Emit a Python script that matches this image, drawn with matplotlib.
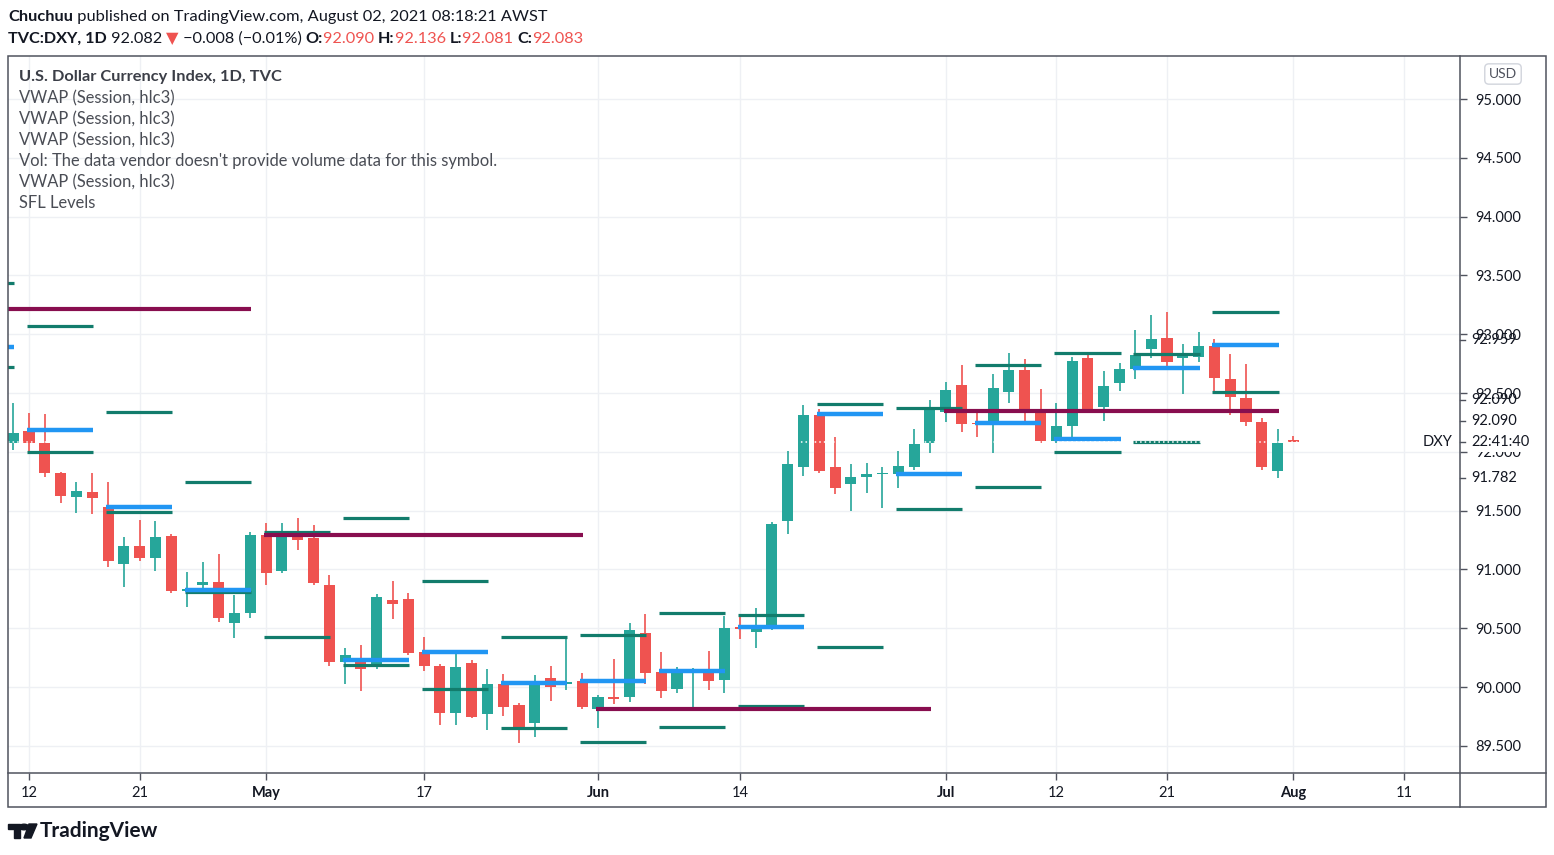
import numpy as np
import pandas as pd
import matplotlib
matplotlib.use("Agg")
import matplotlib.pyplot as plt
from matplotlib.lines import Line2D
from matplotlib.patches import Rectangle, Polygon, Circle

plt.rcParams['font.family'] = ['Lato', 'DejaVu Sans']

W, H = 1554, 855

# daily candles, Apr 9 .. Aug 2 2021 (weekdays)
dates = pd.bdate_range('2021-04-09', '2021-08-02')
opens = [92.075, 92.180, 92.072, 91.823, 91.618, 91.658, 91.534, 91.044, 91.199, 91.100,
         91.284, 90.820, 90.870, 90.896, 90.542, 90.627, 91.293, 90.986, 91.287, 91.270,
         90.867, 90.213, 90.230, 90.181, 90.740, 90.748, 90.298, 90.179, 89.776, 90.201,
         89.767, 90.026, 89.847, 89.691, 90.075, 90.030, 90.051, 89.810, 89.912, 89.918,
         90.457, 90.131, 89.981, 90.120, 90.131, 90.060, 90.508, 90.470, 90.527, 91.414,
         91.874, 92.313, 91.869, 91.724, 91.790, 91.810, 91.809, 91.869, 92.072, 92.342,
         92.568, 92.245, 92.243, 92.512, 92.696, 92.355, 92.092, 92.222, 92.795, 92.384,
         92.582, 92.701, 92.872, 92.965, 92.795, 92.804, 92.900, 92.619, 92.455, 92.256,
         91.840, 92.090]
highs = [92.415, 92.333, 92.321, 91.830, 91.746, 91.817, 91.746, 91.278, 91.420, 91.412,
         91.298, 90.980, 91.066, 91.129, 90.782, 91.321, 91.392, 91.398, 91.435, 91.378,
         90.952, 90.334, 90.357, 90.791, 90.904, 90.797, 90.428, 90.196, 90.278, 90.230,
         90.150, 90.110, 89.867, 90.102, 90.182, 90.430, 90.116, 89.932, 90.235, 90.547,
         90.621, 90.301, 90.173, 90.159, 90.309, 90.604, 90.593, 90.669, 91.400, 92.007,
         92.398, 92.361, 92.129, 91.894, 91.908, 91.869, 92.007, 92.191, 92.440, 92.596,
         92.738, 92.355, 92.662, 92.843, 92.787, 92.531, 92.418, 92.810, 92.823, 92.687,
         92.752, 93.036, 93.163, 93.192, 92.917, 93.016, 92.957, 92.832, 92.747, 92.285,
         92.191, 92.136]
lows = [92.015, 92.001, 91.783, 91.567, 91.477, 91.471, 91.024, 90.848, 91.075, 90.990,
        90.803, 90.677, 90.825, 90.550, 90.414, 90.584, 90.867, 90.973, 91.165, 90.867,
        90.181, 90.026, 89.969, 90.153, 90.578, 90.272, 90.139, 89.677, 89.677, 89.734,
        89.634, 89.753, 89.527, 89.578, 89.881, 89.975, 89.810, 89.654, 89.855, 89.876,
        90.026, 89.904, 89.946, 89.820, 89.975, 89.946, 90.406, 90.335, 90.485, 91.298,
        91.798, 91.817, 91.639, 91.500, 91.653, 91.520, 91.690, 91.845, 91.992, 92.256,
        92.172, 92.129, 91.993, 92.418, 92.243, 92.078, 92.078, 92.129, 92.342, 92.265,
        92.520, 92.619, 92.795, 92.724, 92.491, 92.767, 92.520, 92.313, 92.219, 91.845,
        91.775, 92.081]
closes = [92.160, 92.078, 91.817, 91.627, 91.667, 91.610, 91.075, 91.199, 91.100, 91.279,
          90.820, 90.835, 90.890, 90.590, 90.632, 91.293, 90.967, 91.287, 91.250, 90.887,
          90.215, 90.272, 90.153, 90.768, 90.709, 90.286, 90.181, 89.776, 90.167, 89.743,
          90.026, 89.833, 89.657, 90.031, 89.998, 90.045, 89.827, 89.912, 89.895, 90.485,
          90.122, 89.969, 90.131, 90.135, 90.054, 90.499, 90.491, 90.508, 91.386, 91.896,
          92.313, 91.840, 91.696, 91.783, 91.810, 91.820, 91.879, 92.066, 92.361, 92.526,
          92.234, 92.235, 92.540, 92.696, 92.342, 92.095, 92.219, 92.772, 92.361, 92.560,
          92.704, 92.823, 92.957, 92.766, 92.829, 92.900, 92.625, 92.463, 92.256, 91.869,
          92.078, 92.083]

# weekly levels (week starting Monday)
week_starts = ['2021-04-05', '2021-04-12', '2021-04-19', '2021-04-26', '2021-05-03',
               '2021-05-10', '2021-05-17', '2021-05-24', '2021-05-31', '2021-06-07',
               '2021-06-14', '2021-06-21', '2021-06-28', '2021-07-05', '2021-07-12',
               '2021-07-19', '2021-07-26']
week_high = [93.435, 93.070, 92.338, 91.743, 91.318, 91.437, 90.904, 90.428, 90.442,
             90.627, 90.612, 92.406, 92.370, 92.738, 92.843, 92.829, 93.191]
week_vwap = [92.891, 92.185, 91.531, 90.825, np.nan, 90.230, 90.300, 90.031, 90.054,
             90.139, 90.508, 92.321, 91.809, 92.242, 92.106, 92.710, 92.908]
week_low = [92.721, 91.998, 91.488, 90.808, 90.425, 90.191, 89.980, 89.649, 89.535,
            89.663, 89.838, 90.343, 91.511, 91.701, 92.001, 92.081, 92.506]

# monthly levels
month_starts = ['2021-04-01', '2021-05-03', '2021-06-01', '2021-07-01']
month_ends = ['2021-04-30', '2021-05-31', '2021-06-30', '2021-07-30']
month_level = [93.214, 91.293, 89.811, 92.347]

price_ticks = np.arange(89.5, 95.01, 0.5)
x_tick_dates = ['2021-04-12', '2021-04-21', '2021-05-03', '2021-05-17', '2021-06-01',
                '2021-06-14', '2021-07-01', '2021-07-12', '2021-07-21', '2021-08-02',
                '2021-08-11']
x_tick_labels = ['12', '21', 'May', '17', 'Jun', '14', 'Jul', '12', '21', 'Aug', '11']
month_labels = {'May', 'Jun', 'Jul', 'Aug'}

# extra labels on the price scale
side_labels = ['92.959', '92.090', '92.090', '91.782']
side_prices = [92.951, 92.440, 92.262, 91.777]

UP, DOWN = '#26a69a', '#ef5350'
LEVEL, VWAP, MONTH = '#127c6c', '#2196f3', '#880e4f'
TXT = '#131722'

cal = pd.bdate_range('2021-04-01', '2021-08-13')
pos = {d: i for i, d in enumerate(cal)}
def px(d):
    return pos[pd.Timestamp(d)]

fig = plt.figure(figsize=(W / 100, H / 100), dpi=100)
ax = fig.add_axes([8 / W, 1 - 773 / H, 1452 / W, 717 / H])
for s in ax.spines.values():
    s.set_visible(False)

x0 = px('2021-04-12')
ax.set_xlim(x0 - 1.33, x0 + 90.54)
ax.set_ylim(89.269, 95.366)

# grid
for p in price_ticks:
    ax.axhline(p, color='#eef0f4', lw=1, zorder=0)
for d in x_tick_dates:
    ax.axvline(px(d), color='#eef0f4', lw=1, zorder=0)

# candles
xs = np.array([px(d) for d in dates])
o, h, l, c = map(np.array, (opens, highs, lows, closes))
cols = np.where(c >= o, UP, DOWN)
ax.vlines(xs, l, h, colors=cols, lw=1.2, zorder=2)
body = np.maximum(np.abs(c - o), 0.014)
ax.bar(xs, body, bottom=np.minimum(o, c), width=0.7, color=cols, lw=0, zorder=3)

# weekly levels
for ws, hi, vw, lo in zip(week_starts, week_high, week_vwap, week_low):
    a = px(ws) - 0.12
    b = px(pd.Timestamp(ws) + pd.Timedelta(days=4)) + 0.06
    ax.hlines(hi, a, b, color=LEVEL, lw=2.3, zorder=4)
    ax.hlines(lo, a, b, color=LEVEL, lw=2.3, zorder=4)
    if not np.isnan(vw):
        ax.hlines(vw, a, b, color=VWAP, lw=3.2, zorder=4)

# monthly levels
for ms, me, lv in zip(month_starts, month_ends, month_level):
    ax.hlines(lv, px(ms) - 0.12, px(me) + 0.06, color=MONTH, lw=3.0, zorder=5)

# last price dotted line
ax.axhline(closes[-1], color='white', lw=1.1, ls=(0, (1, 2)), zorder=6)

# axes ticks
ax.yaxis.tick_right()
ax.set_yticks(price_ticks)
ax.set_yticklabels([f'{p:.3f}' for p in price_ticks])
ax.tick_params(axis='y', length=5, width=1, color='#50535e', pad=6,
               labelsize=10.5, labelcolor=TXT)
ax.set_xticks([px(d) for d in x_tick_dates])
ax.set_xticklabels(x_tick_labels)
ax.tick_params(axis='x', length=5, width=1, color='#50535e', pad=4,
               labelsize=10.5, labelcolor=TXT)
for t in ax.get_xticklabels():
    if t.get_text() in month_labels:
        t.set_fontweight('bold')

ytr = ax.get_yaxis_transform()
dx = 1 / 1452
for lab, p in zip(side_labels, side_prices):
    ax.text(1 + 11 * dx, p, lab, transform=ytr, fontsize=10.5, color=TXT,
            va='center', ha='left', clip_on=False, zorder=10)
    ax.add_line(Line2D([1, 1 + 5 * dx], [p, p], transform=ytr, color='#50535e',
                       lw=1, clip_on=False))
ax.text(1 + 11 * dx, closes[-1], '22:41:40', transform=ytr, fontsize=10.5, color=TXT,
        va='center', ha='left', clip_on=False, zorder=11,
        bbox=dict(facecolor='white', edgecolor='none', pad=2.2))
ax.add_line(Line2D([1, 1 + 5 * dx], [closes[-1]] * 2, transform=ytr, color='#50535e',
                   lw=1, clip_on=False))
ax.text(1 - 8 * dx, closes[-1], 'DXY', transform=ytr, fontsize=10.5, color=TXT,
        va='center', ha='right', zorder=11)

# frame
def fx(x):
    return x / W
def fy(y):
    return 1 - y / H
frame = '#50535e'
fig.add_artist(Rectangle((fx(8), fy(807)), 1538 / W, 751 / H, fill=False,
                         edgecolor=frame, lw=1.1, transform=fig.transFigure))
fig.add_artist(Line2D([fx(1460), fx(1460)], [fy(56), fy(807)], color=frame, lw=1.1,
                      transform=fig.transFigure))
fig.add_artist(Line2D([fx(8), fx(1546)], [fy(773), fy(773)], color=frame, lw=1.1,
                      transform=fig.transFigure))

# USD badge
fig.text(fx(1503), fy(74), 'USD', fontsize=10, color='#50535e', ha='center', va='center',
         bbox=dict(boxstyle='round,pad=0.3', facecolor='white', edgecolor='#d1d4dc'))

# header
renderer = fig.canvas.get_renderer()
def chain(parts, x, y, size):
    for txt, color, weight in parts:
        t = fig.text(fx(x), fy(y), txt, fontsize=size, color=color, fontweight=weight,
                     va='center', ha='left')
        bb = t.get_window_extent(renderer)
        x += bb.width
chain([('Chuchuu', TXT, 'bold'),
       (' published on TradingView.com, August 02, 2021 08:18:21 AWST', TXT, 'normal')],
      8, 17, 11.8)
chain([('TVC:DXY, 1D', TXT, 'bold'), (' 92.082 ', TXT, 'normal'), ('▼', DOWN, 'normal'),
       (' \u22120.008 (\u22120.01%) ', TXT, 'normal'),
       ('O:', TXT, 'bold'), ('92.090 ', DOWN, 'normal'),
       ('H:', TXT, 'bold'), ('92.136 ', DOWN, 'normal'),
       ('L:', TXT, 'bold'), ('92.081 ', DOWN, 'normal'),
       ('C:', TXT, 'bold'), ('92.083', DOWN, 'normal')], 8, 39, 11.7)

# legend
legend_lines = ['VWAP (Session, hlc3)', 'VWAP (Session, hlc3)', 'VWAP (Session, hlc3)',
                "Vol: The data vendor doesn't provide volume data for this symbol.",
                'VWAP (Session, hlc3)', 'SFL Levels']
fig.text(fx(19), fy(77), 'U.S. Dollar Currency Index, 1D, TVC', fontsize=11.8, color='#3b3e47',
         fontweight='bold', va='center')
for k, s in enumerate(legend_lines):
    fig.text(fx(19), fy(98 + 21 * k), s, fontsize=11.9, color='#4a4d55', va='center')

# footer logo
logo = '#131722'
fig.add_artist(Polygon([(fx(8), fy(824)), (fx(20), fy(824)), (fx(20), fy(838)),
                        (fx(14), fy(838)), (fx(14), fy(829)), (fx(8), fy(829))],
                       closed=True, color=logo, transform=fig.transFigure))
fig.add_artist(Circle((fx(24), fy(827)), 2.8 / H, color=logo, transform=fig.transFigure))
fig.add_artist(Polygon([(fx(29), fy(824)), (fx(37), fy(824)), (fx(31), fy(838)),
                        (fx(24), fy(838))], closed=True, color=logo,
                       transform=fig.transFigure))
fig.text(fx(40), fy(831), 'TradingView', fontsize=15, fontweight='bold', color=logo,
         va='center', ha='left')

fig.savefig('out.png', dpi=100, facecolor='white')
